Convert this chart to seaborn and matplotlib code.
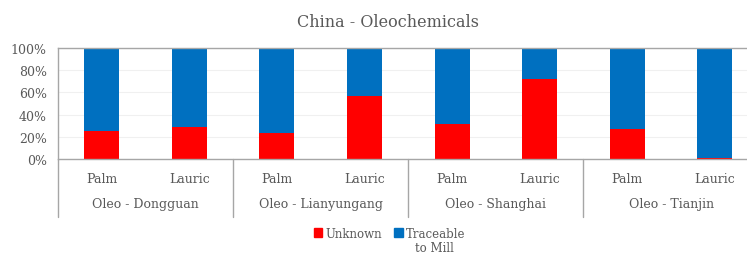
import numpy as np
import pandas as pd
import matplotlib
matplotlib.use("Agg")
import matplotlib.pyplot as plt
from matplotlib.patches import Patch
import seaborn as sns

plants = ["Oleo - Dongguan", "Oleo - Lianyungang", "Oleo - Shanghai", "Oleo - Tianjin"]
oil_types = ["Palm", "Lauric"]
unknown = [25, 28.5, 23, 57, 32, 72, 27, 1]
traceable = [75, 71.5, 77, 43, 68, 28, 73, 99]

RED = "#FF0000"
BLUE = "#0070C0"
GREY = "#595959"

sns.set_theme(style="white")
plt.rcParams["font.family"] = ["DejaVu Serif"]

df = pd.DataFrame({
    "bar": [f"{p}|{o}" for p in plants for o in oil_types],
    "unknown": unknown,
    "total": np.array(unknown) + np.array(traceable),
})

fig = plt.figure(figsize=(7.47, 2.55), dpi=100)
ax = fig.add_axes([0.0776, 0.3725, 0.938, 0.435])

sns.barplot(data=df, x="bar", y="total", color=BLUE, width=0.4, saturation=1,
            linewidth=0, ax=ax)
sns.barplot(data=df, x="bar", y="unknown", color=RED, width=0.4, saturation=1,
            linewidth=0, ax=ax)

ax.set_xlim(-0.5, len(df) - 0.5)
ax.set_ylim(0, 100)
ax.set_yticks([0, 20, 40, 60, 80, 100])
ax.set_yticklabels([f"{v}%" for v in range(0, 101, 20)], fontsize=9, color=GREY)
ax.tick_params(axis="y", length=0, pad=8)
ax.yaxis.grid(True, color="#F0F0F0", linewidth=0.8)
ax.set_axisbelow(True)

ax.set_xticks(range(len(df)))
ax.set_xticklabels(oil_types * len(plants), fontsize=9, color=GREY)
ax.tick_params(axis="x", length=0, pad=9)
ax.set_xlabel("")
ax.set_ylabel("")

for side in ["top", "left", "bottom"]:
    ax.spines[side].set_color("#A6A6A6")
    ax.spines[side].set_linewidth(1)
ax.spines["right"].set_visible(False)

# group separators and group labels
for k in range(len(plants) + 1):
    ax.plot([2 * k - 0.5, 2 * k - 0.5], [0, -0.52], color="#A6A6A6", linewidth=1,
            transform=ax.get_xaxis_transform(), clip_on=False)
for k, p in enumerate(plants):
    ax.text(2 * k + 0.5, -0.405, p, transform=ax.get_xaxis_transform(),
            ha="center", va="center", fontsize=9, color=GREY)

fig.text(0.519, 0.911, "China - Oleochemicals", ha="center", va="center",
         fontsize=11.5, color=GREY)

# legend: second label wraps onto a line below, like the original
handles = [Patch(color=RED), Patch(color=BLUE)]
leg = fig.legend(handles, ["Unknown", "Traceable"], ncol=2, loc="center",
                 bbox_to_anchor=(0.522, 0.082), frameon=False, fontsize=8.5,
                 handlelength=0.7, handleheight=0.7, handletextpad=0.3,
                 columnspacing=1.0, borderpad=0)
for t in leg.get_texts():
    t.set_color(GREY)
fig.text(0.582, 0.024, "to Mill", ha="center", va="center", fontsize=8.5, color=GREY)

fig.savefig("out.png", dpi=100)
